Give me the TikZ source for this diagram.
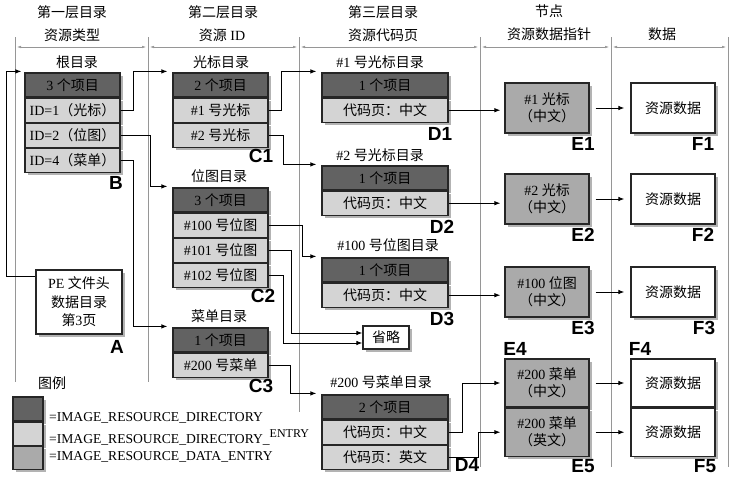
\documentclass[tikz,border=0pt]{standalone}
\usepackage{fontspec}
\setmainfont{Liberation Serif}
\setsansfont{Liberation Sans}
\newfontfamily\cjk{Noto Sans CJK SC}
\newcommand{\zh}[1]{{\cjk #1}}
\usepackage{tikz}
\usetikzlibrary{shapes,arrows.meta,positioning,shadows}
\definecolor{dirgray}{RGB}{98,98,98}
\definecolor{entrygray}{RGB}{212,212,212}
\definecolor{datagray}{RGB}{170,170,170}
\definecolor{rulegray}{RGB}{150,150,150}

\tikzset{
  cell/.style={rectangle, draw=black!85, line width=1.2pt, inner sep=0pt, minimum height=24pt, align=center,
    drop shadow={shadow xshift=2.5pt, shadow yshift=-2.5pt, opacity=0.6}},
  dirbox/.style={cell, fill=dirgray, minimum width=#1}, dirbox/.default=95pt,
  entrybox/.style={cell, fill=entrygray, minimum width=#1}, entrybox/.default=95pt,
  databox/.style={cell, fill=datagray, minimum width=84pt, minimum height=#1}, databox/.default=50pt,
  rawbox/.style={cell, fill=white, minimum width=84pt, minimum height=#1}, rawbox/.default=50pt,
  tag/.style={font=\sffamily\bfseries\fontsize{19}{19}\selectfont, inner sep=0pt},
  link/.style={-{Latex[length=6pt,width=4.5pt]}, line width=0.9pt},
  colline/.style={draw=rulegray, line width=0.8pt},
  dim/.style={{Latex[length=4pt,width=2.5pt]}-{Latex[length=4pt,width=2.5pt]}, draw=rulegray, line width=0.5pt},
  keytext/.style={anchor=base west, inner sep=0pt, font=\fontsize{13.6}{14}\selectfont},
}

\begin{document}
\begin{tikzpicture}[x=1pt, y=-1pt, font=\fontsize{14}{17}\selectfont]
  \useasboundingbox (0,0) rectangle (734,477);

  % column rules and headings
  \foreach \cx/\cy in {15/382, 148/382, 299/412, 480/467, 611/467, 728/467}
    \draw[colline] (\cx,37) -- (\cx,\cy);
  \foreach \xa/\xb in {15/148, 148/299, 299/480, 480/611, 611/728}
    \draw[dim] (\xa+2,47) -- (\xb-2,47);

  \node (h1a) at (72,12) {\zh{第一层目录}};
  \node (h1b) at (72,35) {\zh{资源类型}};
  \node (h2a) at (223,12) {\zh{第二层目录}};
  \node (h2b) at (222,35) {\zh{资源} ID};
  \node (h3a) at (383,12) {\zh{第三层目录}};
  \node (h3b) at (383,35) {\zh{资源代码页}};
  \node (h4a) at (549,11) {\zh{节点}};
  \node (h4b) at (549,34) {\zh{资源数据指针}};
  \node (h5b) at (662,34) {\zh{数据}};

  % PE header
  \node[cell, fill=white, minimum width=86pt, minimum height=64pt, font=\fontsize{14}{18.5}\selectfont] (A) at (79,302) {PE \zh{文件头}\\\zh{数据目录}\\\zh{第}3\zh{页}};
  \node[tag] (A-tag) at (117,347) {A};

  % root directory
  \node (B-t) at (77,62) {\zh{根目录}};
  \node[dirbox] (B-h) at (72.5,85) {3 \zh{个项目}};
  \node[entrybox, below=0pt of B-h] (B-1) {ID=1\zh{（光标）}};
  \node[entrybox, below=0pt of B-1] (B-2) {ID=2\zh{（位图）}};
  \node[entrybox, below=0pt of B-2] (B-3) {ID=4\zh{（菜单）}};
  \node[tag] (B-tag) at (116,183) {B};

  % second level
  \node (C1-t) at (221,62) {\zh{光标目录}};
  \node[dirbox] (C1-h) at (220.5,85) {2 \zh{个项目}};
  \node[entrybox, below=0pt of C1-h] (C1-1) {\#1 \zh{号光标}};
  \node[entrybox, below=0pt of C1-1] (C1-2) {\#2 \zh{号光标}};
  \node[tag] (C1-tag) at (261,156) {C1};

  \node (C2-t) at (219,176) {\zh{位图目录}};
  \node[dirbox] (C2-h) at (220.5,200) {3 \zh{个项目}};
  \node[entrybox, below=0pt of C2-h] (C2-1) {\#100 \zh{号位图}};
  \node[entrybox, below=0pt of C2-1] (C2-2) {\#101 \zh{号位图}};
  \node[entrybox, below=0pt of C2-2] (C2-3) {\#102 \zh{号位图}};
  \node[tag] (C2-tag) at (263,296) {C2};

  \node (C3-t) at (219,316) {\zh{菜单目录}};
  \node[dirbox] (C3-h) at (220.5,340) {1 \zh{个项目}};
  \node[entrybox, below=0pt of C3-h] (C3-1) {\#200 \zh{号菜单}};
  \node[tag] (C3-tag) at (261,386) {C3};

  % third level
  \node (D1-t) at (380,62) {\#1 \zh{号光标目录}};
  \node[dirbox=126pt] (D1-h) at (385,85) {1 \zh{个项目}};
  \node[entrybox=126pt, below=0pt of D1-h] (D1-1) {\zh{代码页：中文}};
  \node[tag] (D1-tag) at (440,134) {D1};

  \node (D2-t) at (380,155) {\#2 \zh{号光标目录}};
  \node[dirbox=126pt] (D2-h) at (385,178) {1 \zh{个项目}};
  \node[entrybox=126pt, below=0pt of D2-h] (D2-1) {\zh{代码页：中文}};
  \node[tag] (D2-tag) at (442,227) {D2};

  \node (D3-t) at (388,245) {\#100 \zh{号位图目录}};
  \node[dirbox=126pt] (D3-h) at (385,270) {1 \zh{个项目}};
  \node[entrybox=126pt, below=0pt of D3-h] (D3-1) {\zh{代码页：中文}};
  \node[tag] (D3-tag) at (442,319) {D3};

  \node[cell, fill=white, minimum width=46pt, minimum height=23pt] (skip) at (386,337.5) {\zh{省略}};

  \node (D4-t) at (381,382) {\#200 \zh{号菜单目录}};
  \node[dirbox=126pt] (D4-h) at (385,407) {2 \zh{个项目}};
  \node[entrybox=126pt, below=0pt of D4-h] (D4-1) {\zh{代码页：中文}};
  \node[entrybox=126pt, below=0pt of D4-1] (D4-2) {\zh{代码页：英文}};
  \node[tag] (D4-tag) at (467,465) {D4};

  % data entries
  \node[databox] (E1) at (547,108) {\#1 \zh{光标}\\\zh{（中文）}};
  \node[tag] (E1-tag) at (583,144) {E1};
  \node[databox] (E2) at (547,199) {\#2 \zh{光标}\\\zh{（中文）}};
  \node[tag] (E2-tag) at (583,235) {E2};
  \node[databox] (E3) at (547,292) {\#100 \zh{位图}\\\zh{（中文）}};
  \node[tag] (E3-tag) at (583,328) {E3};
  \node[databox=48pt] (E4) at (547,383) {\#200 \zh{菜单}\\\zh{（中文）}};
  \node[databox=48pt, below=0pt of E4] (E5) {\#200 \zh{菜单}\\\zh{（英文）}};
  \node[tag] (E4-tag) at (515,349) {E4};
  \node[tag] (E5-tag) at (583,466) {E5};

  % raw data
  \node[rawbox] (F1) at (673,108) {\zh{资源数据}};
  \node[tag] (F1-tag) at (703,144) {F1};
  \node[rawbox] (F2) at (673,199) {\zh{资源数据}};
  \node[tag] (F2-tag) at (703,235) {F2};
  \node[rawbox] (F3) at (673,292) {\zh{资源数据}};
  \node[tag] (F3-tag) at (704,328) {F3};
  \node[rawbox=48pt] (F4) at (673,383) {\zh{资源数据}};
  \node[rawbox=48pt, below=0pt of F4] (F5) {\zh{资源数据}};
  \node[tag] (F4-tag) at (640,349) {F4};
  \node[tag] (F5-tag) at (705,466) {F5};

  % legend
  \node (key-t) at (52,383) {\zh{图例}};
  \node[dirbox=30pt] (key-dir) at (28,409) {};
  \node[entrybox=30pt, minimum height=23pt, below=0pt of key-dir] (key-ent) {};
  \node[cell, fill=datagray, minimum width=30pt, minimum height=23pt, below=0pt of key-ent] (key-data) {};
  \node[keytext] (key-dir-t) at (49,421) {=IMAGE\_RESOURCE\_DIRECTORY};
  \node[keytext] (key-ent-t) at (49,443) {=IMAGE\_RESOURCE\_DIRECTORY\_{\fontsize{12}{12}\selectfont\raisebox{6pt}{ENTRY}}};
  \node[keytext] (key-data-t) at (49,460) {=IMAGE\_RESOURCE\_DATA\_ENTRY};

  % connectors
  \draw[link] ([yshift=-7pt]A.north west) -- ++(-29,0) |- ([xshift=-3pt,yshift=1pt]B-h.north west);
  \draw[link] (B-1.east) -- ++(13,0) |- ([xshift=-5pt,yshift=1pt]C1-h.north west);
  \draw[link] (B-2.east) -- ++(30,0) |- ([xshift=-5pt,yshift=1pt]C2-h.north west);
  \draw[link] (B-3.east) -- ++(13,0) |- ([xshift=-5pt,yshift=1pt]C3-h.north west);
  \draw[link] (C1-1.east) -- ++(13,0) |- ([xshift=-5pt,yshift=1pt]D1-h.north west);
  \draw[link] (C1-2.east) -- ++(15,0) |- ([xshift=-5pt,yshift=1pt]D2-h.north west);
  \draw[link] (C2-1.east) -- ++(34,0) |- ([xshift=-5pt,yshift=1pt]D3-h.north west);
  \draw[link] (C2-2.east) -- ++(23,0) |- ([yshift=4.5pt]skip.west);
  \draw[link] (C2-3.east) -- ++(15,0) |- ([yshift=-5.5pt]skip.west);
  \draw[link] (C3-1.east) -- ++(22,0) |- ([xshift=-5pt,yshift=1pt]D4-h.north west);

  \draw[link, shorten >=4pt] (D1-1.east) -- (D1-1.east -| E1.west);
  \draw[link, shorten >=4pt] (D2-1.east) -- (D2-1.east -| E2.west);
  \draw[link, shorten >=4pt] (D3-1.east) -- (D3-1.east -| E3.west);
  \draw[link] (D4-1.east) -- ++(14,0) |- ([xshift=-4pt]E4.west);
  \draw[link] (D4-2.east) -- ++(30,0) |- ([xshift=-4pt]E5.west);

  \draw[link, shorten <=6pt, shorten >=6pt] (E1.east) -- (F1.west);
  \draw[link, shorten <=6pt, shorten >=6pt] (E2.east) -- (F2.west);
  \draw[link, shorten <=6pt, shorten >=6pt] (E3.east) -- (F3.west);
  \draw[link, shorten <=6pt, shorten >=6pt] (E4.east) -- (F4.west);
  \draw[link, shorten <=6pt, shorten >=6pt] (E5.east) -- (F5.west);
\end{tikzpicture}
\end{document}
